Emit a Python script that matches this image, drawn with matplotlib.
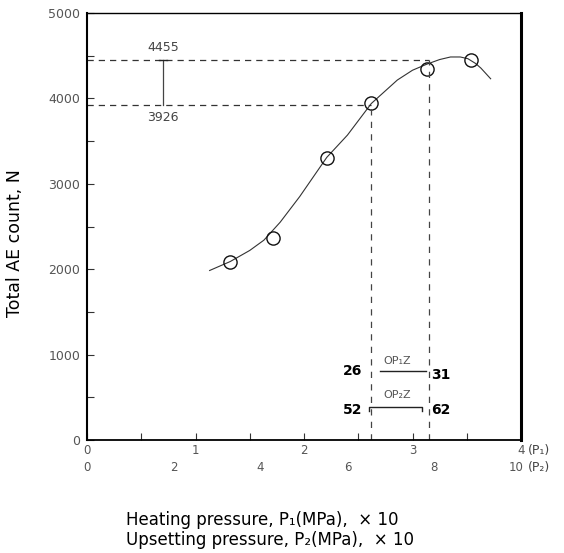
import numpy as np
import matplotlib.pyplot as plt
from matplotlib.transforms import blended_transform_factory

plt.rcParams['font.family'] = ['DejaVu Sans']

# measured points (P1 in MPa x10, total AE count)
p1 = [1.32, 1.71, 2.21, 2.62, 3.13, 3.54]
ae_count = [2080, 2370, 3300, 3950, 4350, 4450]

# fitted curve
curve_p1 = [1.13, 1.32, 1.50, 1.63, 1.78, 1.96, 2.21, 2.40, 2.62, 2.86, 3.00, 3.13, 3.25, 3.35, 3.44, 3.51, 3.58, 3.63, 3.72]
curve_n = [1985, 2090, 2220, 2340, 2550, 2850, 3310, 3570, 3940, 4215, 4330, 4400, 4455, 4485, 4485, 4465, 4410, 4355, 4230]

p1_ticks = [0, 1, 2, 3, 4]
p2_ticks = [0, 2, 4, 6, 8, 10]
y_ticks = [0, 1000, 2000, 3000, 4000, 5000]

n_max = 4455
n_opt = 3926
p1_lo, p1_hi = 2.62, 3.15
op1z = ['26', '31']
op2z = ['52', '62']

fig = plt.figure(figsize=(5.64, 5.53), dpi=100)
ax = fig.add_axes([0.1543, 0.2043, 0.7695, 0.7722])
ax.set_xlim(0, 4)
ax.set_ylim(0, 5000)

# curve + points
ax.plot(curve_p1, curve_n, color='#333333', lw=0.8)
ax.plot(p1, ae_count, 'o', ms=9.5, mfc='none', mec='#111111', mew=1.0)

# guide lines
dash = (0, (5, 4))
ax.plot([0, p1_hi], [n_max, n_max], ls=dash, color='#333333', lw=0.9)
ax.plot([0, p1_lo], [n_opt, n_opt], ls=dash, color='#333333', lw=0.9)
ax.plot([p1_hi, p1_hi], [0, n_max], ls=(0, (5, 5)), color='#444444', lw=0.9)
ax.plot([p1_lo, p1_lo], [0, n_opt], ls=(0, (5, 5)), color='#444444', lw=0.9)

# difference marker
ax.plot([0.70, 0.70], [n_opt, n_max], color='#444444', lw=0.9)
ax.plot([0.665, 0.735], [n_max, n_max], color='#222222', lw=1.0)
ax.text(0.70, 4600, str(n_max), ha='center', va='center', fontsize=9, color='#444444')
ax.text(0.70, 3780, str(n_opt), ha='center', va='center', fontsize=9, color='#444444')

# optimum range annotations
ax.text(2.86, 930, 'OP\u2081Z', ha='center', va='center', fontsize=8, color='#555555')
ax.plot([2.70, 3.12], [806, 806], color='#222222', lw=1.0)
ax.text(2.54, 806, op1z[0], ha='right', va='center', fontsize=10, fontweight='bold')
ax.text(3.17, 765, op1z[1], ha='left', va='center', fontsize=10, fontweight='bold')

ax.text(2.86, 530, 'OP\u2082Z', ha='center', va='center', fontsize=8, color='#555555')
ax.plot([2.60, 2.60, 3.09, 3.09], [340, 386, 386, 340], color='#222222', lw=1.0)
ax.text(2.54, 355, op2z[0], ha='right', va='center', fontsize=10, fontweight='bold')
ax.text(3.17, 355, op2z[1], ha='left', va='center', fontsize=10, fontweight='bold')

# ticks
ax.set_xticks(np.arange(0, 4.01, 0.5))
ax.set_xticklabels([])
ax.set_yticks(y_ticks)
ax.set_yticklabels([str(v) for v in y_ticks], fontsize=9, color='#555555')
ax.set_yticks(np.arange(500, 5000, 1000), minor=True)
ax.tick_params(axis='both', which='both', direction='in', length=5, width=0.8, color='#333333')
ax.tick_params(axis='y', pad=5)

trans = blended_transform_factory(ax.transData, ax.transAxes)
for v in p1_ticks:
    ax.text(v, -0.024, str(v), transform=trans, ha='center', va='center', fontsize=8.5, color='#555555')
for v in p2_ticks[:-1]:
    ax.text(v / 2.5, -0.064, str(v), transform=trans, ha='center', va='center', fontsize=8.5, color='#555555')
ax.text(4.02, -0.064, str(p2_ticks[-1]), transform=trans, ha='right', va='center', fontsize=8.5, color='#555555')
ax.text(4.06, -0.024, '(P\u2081)', transform=trans, ha='left', va='center', fontsize=9, color='#444444')
ax.text(4.06, -0.064, '(P\u2082)', transform=trans, ha='left', va='center', fontsize=9, color='#444444')

ax.spines['left'].set_linewidth(1.5)
ax.spines['bottom'].set_linewidth(1.3)
ax.spines['right'].set_linewidth(2.2)
ax.spines['top'].set_linewidth(1.0)

fig.text(15 / 564, 1 - 243 / 553, 'Total AE count, N', rotation=90, ha='center', va='center', fontsize=12.5)
fig.text(126 / 564, 1 - 520 / 553, 'Heating pressure, P\u2081(MPa),  \u00d7 10', ha='left', va='center', fontsize=12)
fig.text(126 / 564, 1 - 540 / 553, 'Upsetting pressure, P\u2082(MPa),  \u00d7 10', ha='left', va='center', fontsize=12)

plt.savefig('out.png')
